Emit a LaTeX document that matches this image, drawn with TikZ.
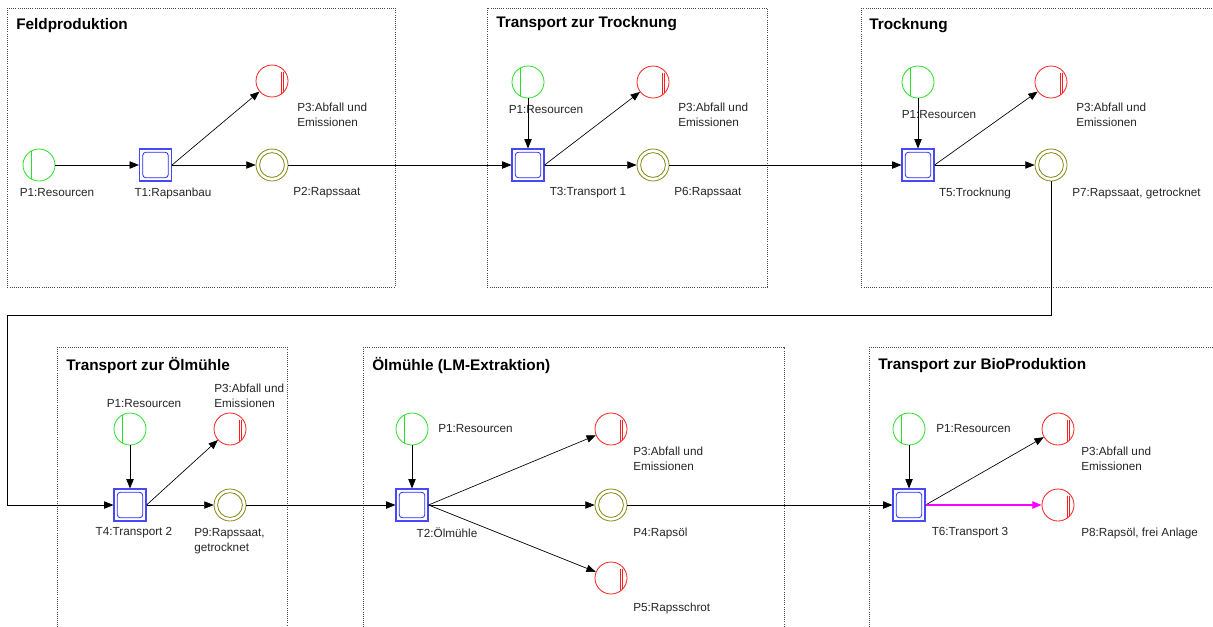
\documentclass[tikz,border=0pt]{standalone}
\usepackage{fontspec}
\setmainfont{Liberation Sans}
\usetikzlibrary{arrows.meta}
\definecolor{pgreen}{RGB}{40,225,40}
\definecolor{pred}{RGB}{250,30,30}
\definecolor{polive}{RGB}{135,135,20}
\definecolor{tblue}{RGB}{40,40,250}
\definecolor{pmag}{RGB}{255,0,255}
\begin{document}
\begin{tikzpicture}[x=0.75pt,y=-0.75pt,
  frame/.style={draw=black!70, densely dotted, line width=0.6pt},
  title/.style={anchor=west, font=\fontsize{11.5}{13}\selectfont\bfseries, inner sep=0},
  lbl/.style={font=\fontsize{8.8}{11.3}\selectfont, inner sep=0, align=left, text=black!85},
  place/.style={circle, minimum size=24pt, inner sep=0, line width=0.6pt},
  res/.style={place, draw=pgreen, path picture={\draw[pgreen, line width=0.6pt] ([xshift=-6pt,yshift=-12pt]path picture bounding box.center) -- ([xshift=-6pt,yshift=12pt]path picture bounding box.center);}},
  waste/.style={place, draw=pred, path picture={
     \draw[pred, line width=0.5pt] ([xshift=7.1pt,yshift=7pt]path picture bounding box.center) -- ([xshift=7.1pt,yshift=-14pt]path picture bounding box.center);
     \draw[pred, line width=0.5pt] ([xshift=8.4pt,yshift=7pt]path picture bounding box.center) -- ([xshift=8.4pt,yshift=-14pt]path picture bounding box.center);}},
  prod/.style={place, draw=polive, path picture={\draw[polive, line width=0.6pt] (path picture bounding box.center) circle (9.3pt);}},
  trans/.style={rectangle, minimum size=24pt, inner sep=0, draw=tblue!85, line width=0.8pt, path picture={\draw[tblue, rounded corners=2.5pt, line width=0.6pt] ([shift={(-9.6pt,-9.6pt)}]path picture bounding box.center) rectangle ([shift={(9.6pt,9.6pt)}]path picture bounding box.center);}},
  arc/.style={-{Triangle[length=7pt,width=5.5pt]}, line width=0.5pt, draw=black},
  magarc/.style={-{Triangle[length=7pt,width=5.5pt]}, line width=1pt, draw=pmag, fill=pmag},
  plain/.style={line width=0.5pt, draw=black}
]
\clip (0,0) rectangle (1213,626);
\fill[white] (0,0) rectangle (1213,626);

% frames
\draw[frame] (7,8) rectangle (395,287);
\draw[frame] (487,8) rectangle (767,287);
\draw[frame] (861,8) rectangle (1230,287);
\draw[frame] (57,347) rectangle (287,640);
\draw[frame] (363,347) rectangle (784,640);
\draw[frame] (869,347) rectangle (1230,640);

\node[title] (t1) at (16,26) {Feldproduktion};
\node[title] (t2) at (496,24) {Transport zur Trocknung};
\node[title] (t3) at (869,26) {Trocknung};
\node[title] (t4) at (66,366) {Transport zur Ölmühle};
\node[title] (t5) at (372,366) {Ölmühle (LM-Extraktion)};
\node[title] (t6) at (878,366) {Transport zur BioProduktion};

% Box 1
\node[res] (P1a) at (39,165) {};
\node[trans] (T1) at (155.5,165) {};
\node[waste] (P3a) at (272,81) {};
\node[prod] (P2) at (272,165) {};
\node[lbl] (lP1a) at (57,193) {P1:Resourcen};
\node[lbl] (lT1) at (173,193) {T1:Rapsanbau};
\node[lbl, anchor=west] (lP3a) at (297,114.5) {P3:Abfall und\\Emissionen};
\node[lbl, anchor=west] (lP2) at (293,193) {P2:Rapssaat};

% Box 2
\node[res] (P1b) at (528,82) {};
\node[trans] (T3) at (528,165) {};
\node[waste] (P3b) at (653,82) {};
\node[prod] (P6) at (653,165) {};
\node[lbl] (lP1b) at (546,110) {P1:Resourcen};
\node[lbl] (lT3) at (588,193) {T3:Transport 1};
\node[lbl, anchor=west] (lP3b) at (678,114.5) {P3:Abfall und\\Emissionen};
\node[lbl, anchor=west] (lP6) at (674,193) {P6:Rapssaat};

% Box 3
\node[res] (P1c) at (918,82) {};
\node[trans] (T5) at (918,165) {};
\node[waste] (P3c) at (1051,82) {};
\node[prod] (P7) at (1051,165) {};
\node[lbl] (lP1c) at (939,115) {P1:Resourcen};
\node[lbl] (lT5) at (975,193) {T5:Trocknung};
\node[lbl, anchor=west] (lP3c) at (1076,114.5) {P3:Abfall und\\Emissionen};
\node[lbl, anchor=west] (lP7) at (1072,193) {P7:Rapssaat, getrocknet};

% Box 4
\node[res] (P1d) at (130,429) {};
\node[trans] (T4) at (130,505) {};
\node[waste] (P3d) at (230,429) {};
\node[prod] (P9) at (230,505) {};
\node[lbl] (lP1d) at (144,404) {P1:Resourcen};
\node[lbl] (lT4) at (134,533) {T4:Transport 2};
\node[lbl, anchor=west] (lP3d) at (214,395.5) {P3:Abfall und\\Emissionen};
\node[lbl, anchor=west] (lP9) at (194,541) {P9:Rapssaat,\\getrocknet};

% Box 5
\node[res] (P1e) at (412,429) {};
\node[trans] (T2) at (412,505) {};
\node[waste] (P3e) at (611,429) {};
\node[prod] (P4) at (611,505) {};
\node[waste] (P5) at (611,578) {};
\node[lbl, anchor=west] (lP1e) at (438,429) {P1:Resourcen};
\node[lbl] (lT2) at (447,533) {T2:Ölmühle};
\node[lbl, anchor=west] (lP3e) at (633,458.5) {P3:Abfall und\\Emissionen};
\node[lbl, anchor=west] (lP4) at (633,533) {P4:Rapsöl};
\node[lbl, anchor=west] (lP5) at (633,608) {P5:Rapsschrot};

% Box 6
\node[res] (P1f) at (909,429) {};
\node[trans] (T6) at (909,505) {};
\node[waste] (P3f) at (1058,429) {};
\node[waste] (P8) at (1058,505) {};
\node[lbl, anchor=west] (lP1f) at (936,429) {P1:Resourcen};
\node[lbl] (lT6) at (970,533) {T6:Transport 3};
\node[lbl, anchor=west] (lP3f) at (1081,458.5) {P3:Abfall und\\Emissionen};
\node[lbl, anchor=west] (lP8) at (1081,533) {P8:Rapsöl, frei Anlage};

% connectors
\coordinate (c1) at (1051,315);
\coordinate (c2) at (7,315);
\coordinate (c3) at (7,505);

\draw[arc] (P1a) -- (T1);
\draw[arc] (T1.east) -- (P3a);
\draw[arc] (T1) -- (P2);
\draw[arc] (P2) -- (T3);
\draw[arc] (P1b) -- (T3);
\draw[arc] (T3.east) -- (P3b);
\draw[arc] (T3) -- (P6);
\draw[arc] (P6) -- (T5);
\draw[arc] (P1c) -- (T5);
\draw[arc] (T5.east) -- (P3c);
\draw[arc] (T5) -- (P7);
\draw[arc] (P7.south) -- (c1) -- (c2) -- (c3) -- (T4.west);
\draw[arc] (P1d) -- (T4);
\draw[arc] (T4.east) -- (P3d);
\draw[arc] (T4) -- (P9);
\draw[arc] (P9) -- (T2);
\draw[arc] (P1e) -- (T2);
\draw[arc] (T2.east) -- (P3e);
\draw[arc] (T2) -- (P4);
\draw[arc] (T2.east) -- (P5);
\draw[arc] (P4) -- (T6);
\draw[arc] (P1f) -- (T6);
\draw[arc] (T6.east) -- (P3f);
\draw[magarc] (T6) -- (P8);
\end{tikzpicture}
\end{document}
